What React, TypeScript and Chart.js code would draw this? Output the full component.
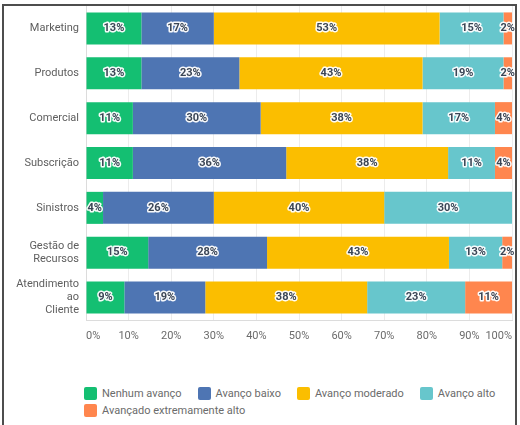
import React, { useEffect, useRef } from "react";
import { Chart, registerables } from "chart.js";

Chart.register(...registerables);

const categories: (string | string[])[] = [
  "Marketing",
  "Produtos",
  "Comercial",
  "Subscrição",
  "Sinistros",
  ["Gestão de", "Recursos"],
  ["Atendimento", "ao", "Cliente"],
];

const seriesNames = [
  "Nenhum avanço",
  "Avanço baixo",
  "Avanço moderado",
  "Avanço alto",
  "Avançado extremamente alto",
];

const nenhum = [13, 13, 11, 11, 4, 14.6, 9];
const baixo = [17, 23, 30, 36, 26, 27.9, 19];
const moderado = [53, 43, 38, 38, 40, 42.7, 38];
const alto = [15, 19, 17, 11, 30, 12.5, 23];
const extremo = [2, 2, 4, 4, 0, 2.3, 11];

const colors = ["#14BF72", "#4E75B3", "#FBBE00", "#67C6CC", "#FF864E"];

const xTicks = [0, 10, 20, 30, 40, 50, 60, 70, 80, 90, 100];

const FONT = "Roboto, 'Noto Sans', sans-serif";

const labelPlugin = {
  id: "segLabels",
  afterDatasetsDraw(chart: any) {
    const ctx = chart.ctx;
    ctx.save();
    ctx.font = `bold 11px ${FONT}`;
    ctx.textAlign = "center";
    ctx.textBaseline = "middle";
    ctx.lineJoin = "round";
    chart.data.datasets.forEach((ds: any, di: number) => {
      const meta = chart.getDatasetMeta(di);
      if (meta.hidden) return;
      meta.data.forEach((el: any, i: number) => {
        const v = ds.data[i];
        if (!v) return;
        const p = el.getProps(["x", "y", "base"], true);
        const cx = (p.x + p.base) / 2;
        const txt = Math.round(v) + "%";
        ctx.strokeStyle = "rgba(255,255,255,0.95)";
        ctx.lineWidth = 3;
        ctx.strokeText(txt, cx, p.y);
        ctx.fillStyle = "#3b4656";
        ctx.fillText(txt, cx, p.y);
      });
    });
    ctx.restore();
  },
};

export default function App() {
  const ref = useRef<HTMLCanvasElement>(null);

  useEffect(() => {
    if (!ref.current) return;
    const series = [nenhum, baixo, moderado, alto, extremo];
    const chart = new Chart(ref.current, {
      type: "bar",
      data: {
        labels: categories,
        datasets: series.map((d, i) => ({
          label: seriesNames[i],
          data: d,
          backgroundColor: colors[i],
          borderWidth: 0,
          categoryPercentage: 1,
          barPercentage: 0.714,
        })),
      },
      options: {
        indexAxis: "y",
        animation: false,
        responsive: false,
        maintainAspectRatio: false,
        layout: { padding: { top: 6, right: 8, left: 0, bottom: 0 } },
        plugins: {
          legend: { display: false },
          tooltip: { enabled: false },
        },
        scales: {
          x: {
            stacked: true,
            min: 0,
            max: 100,
            afterBuildTicks: (scale: any) => {
              scale.ticks = xTicks.map((v) => ({ value: v }));
            },
            afterFit: (scale: any) => {
              scale.paddingLeft = 0;
              scale.paddingRight = 0;
              scale.height = 28;
            },
            grid: {
              color: "#ececec",
              drawTicks: false,
            },
            border: { color: "#dcdcdc" },
            ticks: {
              padding: 10,
              align: "inner",
              color: "#6b6b6b",
              font: { family: FONT, size: 11 },
              callback: (v: any) => v + "%",
            },
          },
          y: {
            stacked: true,
            grid: { display: false, drawTicks: false },
            border: { color: "#dcdcdc" },
            afterFit: (scale: any) => {
              scale.width = 86;
              scale.paddingTop = 0;
              scale.paddingBottom = 0;
            },
            ticks: {
              autoSkip: false,
              padding: 7,
              color: "#5e5e5e",
              font: { family: FONT, size: 11, lineHeight: 1.18 },
            },
          },
        },
      },
      plugins: [labelPlugin],
    } as any);
    return () => chart.destroy();
  }, []);

  return (
    <div
      style={{
        position: "absolute",
        left: 0,
        top: 0,
        width: 520,
        height: 425,
        background: "#fff",
        overflow: "hidden",
        fontFamily: FONT,
      }}
    >
      <canvas
        ref={ref}
        width={520}
        height={348}
        style={{ position: "absolute", left: 0, top: 0, width: 520, height: 348 }}
      />
      <div
        style={{
          position: "absolute",
          left: 84,
          top: 387,
          width: 430,
          display: "flex",
          flexWrap: "wrap",
          columnGap: 16,
          rowGap: 4,
          fontSize: 11,
          color: "#6b6b6b",
          lineHeight: "13px",
        }}
      >
        {seriesNames.map((n, i) => (
          <div key={n} style={{ display: "flex", alignItems: "center", whiteSpace: "nowrap" }}>
            <span
              style={{
                display: "inline-block",
                width: 13,
                height: 13,
                borderRadius: 2,
                background: colors[i],
                marginRight: 5,
              }}
            />
            {n}
          </div>
        ))}
      </div>
      <div
        style={{
          position: "absolute",
          left: 2,
          top: 4,
          width: 511,
          height: 440,
          border: "2px solid #4d4d4d",
          pointerEvents: "none",
        }}
      />
    </div>
  );
}
